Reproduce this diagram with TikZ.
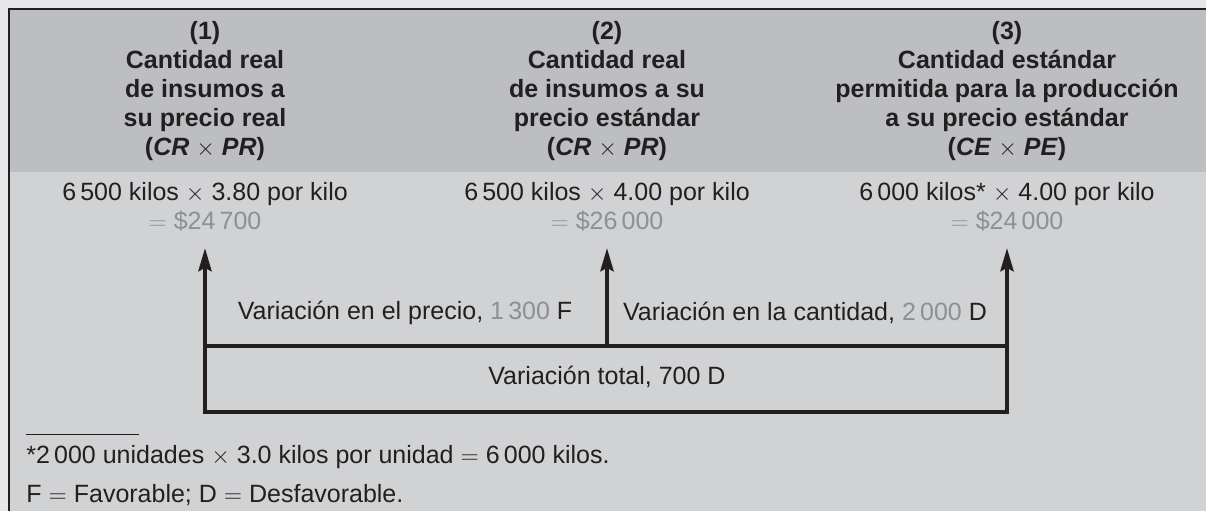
\documentclass[tikz,border=0pt]{standalone}
\usepackage{fontspec}
\setmainfont{Liberation Sans}
\usepackage{xcolor}
\usetikzlibrary{arrows.meta,positioning,calc}

\definecolor{outerbg}{HTML}{E6E7E9}
\definecolor{headbg}{HTML}{BDBEC1}
\definecolor{bodybg}{HTML}{D1D2D4}
\definecolor{numgray}{HTML}{8E8F91}
\definecolor{inkblack}{HTML}{231F20}

\newcommand{\tms}{\ensuremath{\times}}
\newcommand{\eqs}{\ensuremath{=}}

\tikzset{
  txt/.style={inner sep=0pt,text=inkblack,font=\fontsize{12.5}{14.5}\selectfont},
  head/.style={txt,align=center,font=\fontsize{12.5}{14.5}\selectfont\bfseries},
  body/.style={txt,align=center},
  bar/.style={line width=2pt,color=inkblack},
  tip/.style={-{Stealth[length=11.5pt,width=6.5pt,inset=1.5pt]}}
}

\begin{document}
\begin{tikzpicture}[x=0.5pt,y=-0.5pt]
  \useasboundingbox (0,0) rectangle (1206,511);
  \fill[outerbg] (0,0) rectangle (1206,511);
  \fill[headbg] (9,9) rectangle (1206,172);
  \fill[bodybg] (9,172) rectangle (1206,511);
  \draw[line width=1pt,inkblack] (9,511) -- (9,9) -- (1206,9);

  \node[head] (h1) at (205,91) {(1)\\Cantidad real\\de insumos a\\su precio real\\(\textit{CR} \tms{} \textit{PR})};
  \node[head] (h2) at (607,91) {(2)\\Cantidad real\\de insumos a su\\precio estándar\\(\textit{CR} \tms{} \textit{PR})};
  \node[head] (h3) at (1007,91) {(3)\\Cantidad estándar\\permitida para la producción\\a su precio estándar\\(\textit{CE} \tms{} \textit{PE})};

  \node[body] (c1) at (205,207) {6\,500 kilos \tms{} 3.80 por kilo\\\textcolor{numgray}{\eqs{} \$24\,700}};
  \node[body] (c2) at (607,207) {6\,500 kilos \tms{} 4.00 por kilo\\\textcolor{numgray}{\eqs{} \$26\,000}};
  \node[body] (c3) at (1007,207) {6\,000 kilos* \tms{} 4.00 por kilo\\\textcolor{numgray}{\eqs{} \$24\,000}};

  \coordinate (a1) at (205,248);
  \coordinate (a2) at (607,248);
  \coordinate (a3) at (1007,248);
  \coordinate (m1) at (205,346);
  \coordinate (m2) at (607,346);
  \coordinate (m3) at (1007,346);
  \coordinate (b1) at (205,412);
  \coordinate (b3) at (1007,412);

  \draw[bar,{Stealth[length=11.5pt,width=6.5pt,inset=1.5pt]}-{Stealth[length=11.5pt,width=6.5pt,inset=1.5pt]}] (a1) -- (b1) -- (b3) -- (a3);
  \draw[bar] (m1) -- (m3);
  \draw[bar,tip] (m2) -- (a2);

  \node[txt] (vp) at (405,313) {Variación en el precio, \textcolor{numgray}{1\,300} F};
  \node[txt] (vc) at (805,313) {Variación en la cantidad, \textcolor{numgray}{2\,000} D};
  \node[txt] (vt) at (607,377) {Variación total, 700 D};

  \draw[line width=0.5pt,inkblack] (26,434) -- (139,434);
  \node[txt,anchor=west] (n1) at (26,457) {*2\,000 unidades \tms{} 3.0 kilos por unidad \eqs{} 6\,000 kilos.};
  \node[txt,anchor=west] (n2) at (26,495) {F \eqs{} Favorable; D \eqs{} Desfavorable.};
\end{tikzpicture}
\end{document}
